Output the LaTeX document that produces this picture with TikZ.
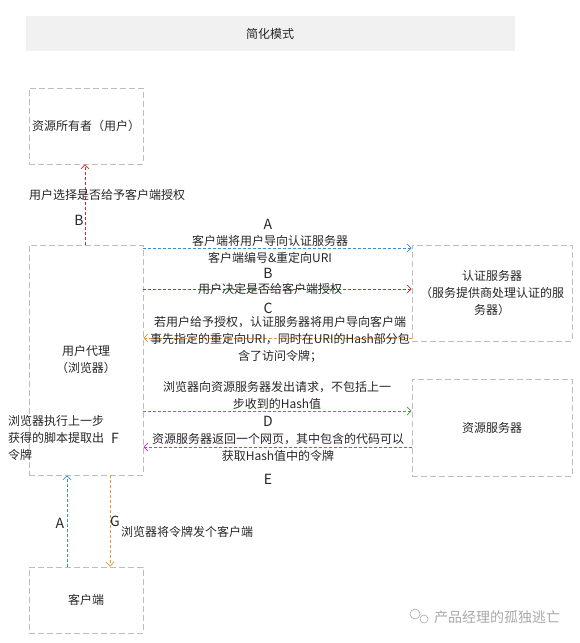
\documentclass[tikz,border=0pt]{standalone}
\usepackage{fontspec}
\setmainfont{Noto Sans CJK SC}
\usetikzlibrary{arrows.meta}
\definecolor{boxgray}{HTML}{BDBDBD}
\definecolor{titlebg}{HTML}{F1F1F1}
\definecolor{txt}{HTML}{262626}
\definecolor{cA}{HTML}{3A8FDB}
\definecolor{cB}{HTML}{D8262C}
\definecolor{cC}{HTML}{E8983A}
\definecolor{cD}{HTML}{3AA53A}
\definecolor{cE}{HTML}{D62AD6}
\definecolor{wm}{HTML}{A8A8A8}
\begin{document}
\begin{tikzpicture}[x=1pt,y=-1pt,
  font=\fontsize{12}{17}\selectfont, text=txt,
  box/.style={draw=boxgray, dash pattern=on 6pt off 3pt, line width=0.8pt, inner sep=0pt, align=center},
  flow/.style={dash pattern=on 3pt off 2pt, line width=0.7pt, -{Straight Barb[length=4pt,width=8pt]}},
  lbl/.style={inner sep=0pt, align=center},
  letter/.style={inner sep=0pt, font=\fontsize{14}{16}\selectfont}]
\useasboundingbox (0,0) rectangle (580,643);
% title
\fill[titlebg] (26,16) rectangle (515,51);
\node[lbl] (title) at (270,33.5) {简化模式};
% boxes
\node[box, minimum width=114pt, minimum height=76pt] (owner) at (86,126) {资源所有者（用户）};
\node[box, minimum width=114pt, minimum height=230pt] (agent) at (86,360) {用户代理\\（浏览器）};
\node[box, minimum width=160pt, minimum height=96pt] (auth) at (492,293) {认证服务器\\（服务提供商处理认证的服\\务器）};
\node[box, minimum width=160pt, minimum height=97pt] (res) at (492,427.5) {资源服务器};
\node[box, minimum width=114pt, minimum height=66pt] (client) at (86,600) {客户端};
% helper coordinates
\coordinate (yA) at (0,248);
\coordinate (yB) at (0,289);
\coordinate (yC) at (0,338);
\coordinate (yD) at (0,411);
\coordinate (yE) at (0,447);
\coordinate (xB) at (85,0);
\coordinate (xA) at (67,0);
\coordinate (xG) at (110,0);
% connectors
\draw[flow, cA] (agent.east |- yA) -- (auth.west |- yA);
\draw[flow, cB] (agent.east |- yB) -- (auth.west |- yB);
\draw[flow, cC] (auth.west |- yC) -- (agent.east |- yC);
\draw[flow, cD] (agent.east |- yD) -- (res.west |- yD);
\draw[flow, cE] (res.west |- yE) -- (agent.east |- yE);
\draw[flow, cB] (agent.north -| xB) -- (owner.south -| xB);
\draw[flow, cA] (client.north -| xA) -- (agent.south -| xA);
\draw[flow, cC] (agent.south -| xG) -- (client.north -| xG);
% labels
\node[lbl, anchor=west] (lB1) at (29,195) {用户选择是否给予客户端授权};
\node[letter] (LB1) at (79,220) {B};
\node[letter] (LA) at (268,224) {A};
\node[lbl] (tA1) at (270,241) {客户端将用户导向认证服务器};
\node[lbl] (tA2) at (270,258) {客户端编号\&重定向URI};
\node[letter] (LB) at (268,273) {B};
\node[lbl] (tB) at (270,289) {用户决定是否给客户端授权};
\node[letter] (LC) at (268,308) {C};
\node[lbl] (tC) at (280,339) {若用户给予授权，认证服务器将用户导向客户端\\事先指定的重定向URI，同时在URI的Hash部分包\\含了访问令牌；};
\node[lbl] (tD) at (277,395) {浏览器向资源服务器发出请求，不包括上一\\步收到的Hash值};
\node[letter] (LD) at (268,421) {D};
\node[lbl] (tE) at (278,447) {资源服务器返回一个网页，其中包含的代码可以\\获取Hash值中的令牌};
\node[letter] (LE) at (268,479) {E};
\node[lbl, align=left, anchor=west] (tF) at (8,438) {浏览器执行上一步\\获得的脚本提取出\\令牌};
\node[letter] (LF) at (115,438) {F};
\node[letter] (LA2) at (60,523) {A};
\node[letter] (LG) at (115,521) {G};
\node[lbl, anchor=west] (tG) at (121,532) {浏览器将令牌发个客户端};
% watermark
\draw[wm, line width=0.6pt] (415,614) circle (5pt);
\draw[wm, line width=0.6pt] (424,619) circle (4pt);
\node[lbl, anchor=west, text=wm, font=\fontsize{14}{16}\selectfont] (wmt) at (434,617) {产品经理的孤独逃亡};
\end{tikzpicture}
\end{document}
